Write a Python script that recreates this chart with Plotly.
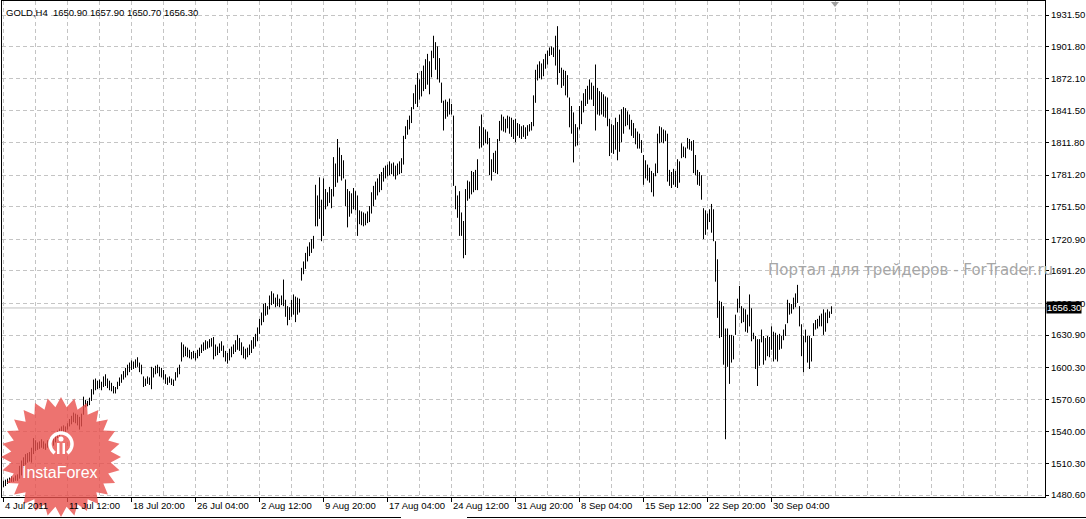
import math
import plotly.graph_objects as go

# ---------------- data ----------------
symbol = "GOLD,H4"
last_ohlc = [1650.90, 1657.90, 1650.70, 1656.30]
watermark = "Портал для трейдеров - ForTrader.ru"
logo_text = "InstaForex"

highs = [
    1494, 1495, 1496, 1497, 1498, 1497, 1499, 1500, 1508, 1513,
    1516, 1519, 1520, 1521, 1525, 1534, 1532, 1530, 1531, 1533,
    1531, 1529, 1532, 1534, 1536, 1535, 1538, 1541, 1543, 1545,
    1546, 1545, 1548, 1552, 1555, 1558, 1557, 1556, 1554, 1557,
    1573, 1570, 1569, 1572, 1580, 1589, 1590, 1588, 1589, 1587,
    1592, 1594, 1590, 1588, 1586, 1583, 1582, 1587, 1591, 1594,
    1597, 1600, 1603, 1605, 1607, 1606, 1608, 1610, 1605, 1603,
    1592, 1590, 1592, 1591, 1601, 1600, 1602, 1603, 1601, 1600,
    1598, 1594, 1591, 1592, 1590, 1589, 1596, 1600, 1603, 1624,
    1622, 1620, 1619, 1617, 1615, 1616, 1614, 1617, 1619, 1622,
    1624, 1626, 1625, 1627, 1628, 1629, 1622, 1620, 1623, 1625,
    1621, 1616, 1614, 1618, 1620, 1622, 1626, 1631, 1628, 1624,
    1620, 1618, 1619, 1622, 1626, 1629, 1632, 1638, 1646, 1652,
    1660, 1661, 1658, 1668, 1672, 1670, 1666, 1669, 1665, 1668,
    1683, 1664, 1658, 1657, 1664, 1669, 1667, 1666, 1665, 1694,
    1700, 1708, 1714, 1718, 1721, 1724, 1772, 1762, 1779, 1758,
    1778, 1768, 1765, 1770, 1768, 1798, 1792, 1815, 1807, 1800,
    1795, 1777, 1768, 1766, 1764, 1769, 1766, 1762, 1748, 1747,
    1746, 1745, 1747, 1752, 1765, 1771, 1775, 1778, 1782, 1784,
    1788, 1790, 1791, 1794, 1792, 1793, 1790, 1792, 1794, 1797,
    1818, 1827, 1833, 1837, 1845, 1858, 1866, 1877, 1871, 1879,
    1884, 1890, 1895, 1888, 1898, 1912, 1906, 1902, 1891, 1868,
    1851, 1852, 1850, 1853, 1848, 1837, 1771, 1762, 1766, 1746,
    1738, 1768, 1776, 1775, 1785, 1784, 1786, 1796, 1827, 1838,
    1826, 1824, 1822, 1816, 1796, 1802, 1804, 1815, 1832, 1838,
    1836, 1834, 1837, 1836, 1835, 1833, 1834, 1830, 1829, 1827,
    1828, 1826, 1828, 1829, 1831, 1856, 1880, 1885, 1888, 1886,
    1890, 1895, 1898, 1901, 1902, 1901, 1912, 1921, 1899, 1882,
    1880, 1879, 1875, 1854, 1846, 1840, 1829, 1826, 1846, 1851,
    1858, 1862, 1865, 1871, 1868, 1865, 1885, 1863, 1860, 1859,
    1857, 1855, 1854, 1834, 1829, 1828, 1835, 1831, 1838, 1843,
    1845, 1844, 1841, 1838, 1833, 1830, 1825, 1822, 1820, 1814,
    1800, 1795, 1791, 1788, 1785, 1783, 1792, 1820, 1827, 1826,
    1824, 1823, 1820, 1786, 1784, 1787, 1785, 1796, 1794, 1811,
    1808, 1807, 1816, 1815, 1813, 1814, 1800, 1786, 1784, 1781,
    1750, 1748, 1745, 1749, 1754, 1749, 1719, 1702, 1663, 1662,
    1658, 1637, 1637, 1631, 1631, 1630, 1650, 1665, 1677, 1658,
    1656, 1655, 1650, 1669, 1656, 1633, 1630, 1627, 1627, 1636,
    1630, 1628, 1630, 1629, 1639, 1634, 1633, 1631, 1632, 1630,
    1636, 1641, 1664, 1661, 1660, 1666, 1670, 1678, 1658, 1641,
    1630, 1636, 1630, 1630, 1628, 1642, 1645, 1646, 1649, 1651,
    1655, 1652, 1655, 1653, 1657.9,
]

lows = [
    1488, 1489, 1491, 1492, 1493, 1493, 1494, 1494, 1496, 1499,
    1506, 1509, 1511, 1512, 1511, 1519, 1522, 1523, 1524, 1525,
    1524, 1523, 1525, 1527, 1528, 1527, 1530, 1534, 1536, 1538,
    1539, 1540, 1542, 1545, 1547, 1549, 1548, 1546, 1542, 1545,
    1556, 1563, 1564, 1565, 1569, 1575, 1579, 1580, 1581, 1579,
    1582, 1583, 1581, 1579, 1578, 1576, 1576, 1580, 1583, 1586,
    1589, 1591, 1593, 1596, 1598, 1599, 1600, 1601, 1596, 1594,
    1582, 1583, 1585, 1584, 1580, 1591, 1594, 1595, 1592, 1591,
    1589, 1585, 1584, 1586, 1584, 1583, 1588, 1591, 1594, 1606,
    1610, 1611, 1610, 1609, 1608, 1609, 1607, 1609, 1611, 1614,
    1616, 1617, 1618, 1619, 1620, 1608, 1611, 1612, 1614, 1616,
    1610, 1606, 1604, 1607, 1610, 1613, 1615, 1617, 1616, 1612,
    1609, 1608, 1610, 1612, 1614, 1618, 1620, 1625, 1632, 1640,
    1643, 1649, 1650, 1655, 1659, 1660, 1657, 1658, 1657, 1659,
    1658, 1648, 1640, 1645, 1648, 1650, 1643, 1650, 1652, 1682,
    1688, 1693, 1700, 1705, 1708, 1712, 1733, 1733, 1740, 1719,
    1724, 1749, 1752, 1755, 1750, 1761, 1770, 1774, 1780, 1776,
    1778, 1752, 1732, 1742, 1745, 1749, 1748, 1724, 1735, 1734,
    1733, 1734, 1736, 1737, 1745, 1752, 1758, 1762, 1765, 1767,
    1775, 1778, 1780, 1781, 1782, 1780, 1777, 1781, 1782, 1783,
    1791, 1815, 1819, 1824, 1830, 1843, 1848, 1845, 1852, 1855,
    1860, 1862, 1866, 1857, 1873, 1891, 1880, 1871, 1868, 1849,
    1823, 1834, 1836, 1838, 1838, 1771, 1749, 1741, 1724, 1724,
    1703, 1706, 1757, 1759, 1763, 1765, 1767, 1767, 1806, 1807,
    1809, 1811, 1810, 1781, 1776, 1784, 1783, 1782, 1813, 1823,
    1822, 1821, 1825, 1820, 1817, 1815, 1812, 1818, 1816, 1815,
    1817, 1815, 1818, 1822, 1823, 1827, 1849, 1870, 1872, 1871,
    1874, 1881, 1885, 1893, 1894, 1892, 1884, 1866, 1877, 1863,
    1865, 1856, 1854, 1826, 1820, 1793, 1808, 1809, 1824, 1829,
    1840, 1846, 1848, 1852, 1852, 1846, 1823, 1838, 1837, 1838,
    1836, 1835, 1827, 1799, 1802, 1801, 1805, 1795, 1803, 1812,
    1820, 1827, 1828, 1824, 1818, 1816, 1810, 1806, 1806, 1802,
    1772, 1778, 1776, 1774, 1765, 1761, 1780, 1783, 1811, 1812,
    1811, 1813, 1775, 1771, 1769, 1772, 1770, 1769, 1774, 1797,
    1798, 1797, 1806, 1805, 1804, 1783, 1781, 1772, 1771, 1758,
    1721, 1725, 1730, 1737, 1727, 1719, 1681, 1647, 1628, 1629,
    1603, 1533, 1601, 1585, 1605, 1608, 1631, 1652, 1656, 1642,
    1643, 1634, 1633, 1639, 1625, 1627, 1599, 1583, 1602, 1624,
    1603, 1607, 1611, 1610, 1617, 1606, 1608, 1606, 1617, 1618,
    1626, 1630, 1642, 1650, 1651, 1655, 1657, 1661, 1639, 1611,
    1596, 1624, 1605, 1599, 1606, 1630, 1636, 1637, 1639, 1639,
    1631, 1634, 1642, 1647, 1650.7,
]
assert len(highs) == len(lows)

x_labels = ["4 Jul 2011", "11 Jul 12:00", "18 Jul 20:00", "26 Jul 04:00",
            "2 Aug 12:00", "9 Aug 20:00", "17 Aug 04:00", "24 Aug 12:00",
            "31 Aug 20:00", "8 Sep 04:00", "15 Sep 12:00", "22 Sep 20:00",
            "30 Sep 04:00"]
bars_per_label = 32
bars_per_grid = 16

y_ticks = [1931.50, 1901.80, 1872.10, 1841.50, 1811.80, 1781.20, 1751.50,
           1720.90, 1691.20, 1660.60, 1630.90, 1600.30, 1570.60, 1540.00,
           1510.30, 1480.60]

# ---------------- layout geometry ----------------
W, H = 1086, 519
ML, MR, MT, MB = 2, 41, 1, 22
PW, PH = W - ML - MR, H - MT - MB
px_per_bar = 2.0
x0 = -0.75
x1 = x0 + PW / px_per_bar
price_per_px = (y_ticks[0] - y_ticks[-1]) / 480.0
ymin = y_ticks[-1] - 2 * price_per_px
ymax = ymin + PH * price_per_px

FONT = "Liberation Sans, Arial, sans-serif"
FS = 9.5
GRID = "#c4c4c4"
DASH = "4px,3px"


def to_paper(px, py):
    return (px - ML) / PW, (H - MB - py) / PH


# ---------------- bars ----------------
xs, ys = [], []
for i, (h, l) in enumerate(zip(highs, lows)):
    xs += [i, i, None]
    ys += [l, h, None]

fig = go.Figure()
fig.add_trace(go.Scatter(x=xs, y=ys, mode="lines",
                         line=dict(color="black", width=1),
                         hoverinfo="skip", showlegend=False))

label_pos = [k * bars_per_label for k in range(len(x_labels))]

fig.update_layout(
    template="none",
    width=W, height=H,
    margin=dict(l=ML, r=MR, t=MT, b=MB, pad=0, autoexpand=False),
    paper_bgcolor="white", plot_bgcolor="white",
    showlegend=False, hovermode=False,
    font=dict(family=FONT, size=FS, color="black"),
    xaxis=dict(range=[x0, x1], automargin=False, showline=True,
               linecolor="black", linewidth=1,
               mirror=True, zeroline=False,
               tickvals=label_pos, ticks="outside", ticklen=4,
               tickcolor="black", tickwidth=1, showticklabels=False,
               showgrid=True, gridcolor=GRID, griddash=DASH, gridwidth=1,
               minor=dict(dtick=bars_per_grid, tick0=0, showgrid=True,
                          gridcolor=GRID, griddash=DASH, gridwidth=1,
                          ticks="")),
    yaxis=dict(side="right", range=[ymin, ymax], automargin=False,
               showline=True, linecolor="black", linewidth=1, mirror=True,
               zeroline=False,
               tickvals=y_ticks, ticktext=[f"{v:.2f}" for v in y_ticks],
               ticks="outside", ticklen=3, tickcolor="black", tickwidth=1,
               tickfont=dict(family=FONT, size=FS, color="black"),
               showgrid=True, gridcolor=GRID, griddash=DASH, gridwidth=1),
)

# bottom date labels (left aligned at their tick like MT4)
for pos, lab in zip(label_pos, x_labels):
    fig.add_annotation(x=pos, xref="x", y=0, yref="paper", text=lab,
                       xanchor="left", yanchor="top", yshift=-1, xshift=-1,
                       showarrow=False,
                       font=dict(family=FONT, size=FS, color="black"))

# current price line + label
last_price = last_ohlc[3]
fig.add_shape(type="line", xref="paper", x0=0, x1=1, yref="y",
              y0=last_price, y1=last_price,
              line=dict(color="#c0c0c0", width=1), layer="below")
fig.add_annotation(x=1, xref="paper", y=last_price, yref="y",
                   text=f"{last_price:.2f}", xanchor="left", yanchor="middle",
                   xshift=1, showarrow=False, bgcolor="black", borderpad=0,
                   font=dict(family=FONT, size=FS, color="white"))

# header
header = symbol + "  " + " ".join(f"{v:.2f}" for v in last_ohlc)
hx, hy = to_paper(4, 5)
fig.add_annotation(x=hx, xref="paper", y=hy, yref="paper", text=header,
                   xanchor="left", yanchor="top", showarrow=False,
                   font=dict(family=FONT, size=FS, color="black"))

# watermark text
wx, wy = to_paper(766, 270)
fig.add_annotation(x=wx, xref="paper", y=wy, yref="paper", text=watermark,
                   xanchor="left", yanchor="middle", showarrow=False,
                   font=dict(family="DejaVu Sans, sans-serif", size=15,
                             color="#a6a6a6"))

# chart-shift marker at top
tri = [to_paper(831, 2), to_paper(839, 2), to_paper(835, 7)]
fig.add_shape(type="path", xref="paper", yref="paper",
              path="M{} {} L{} {} L{} {} Z".format(*tri[0], *tri[1], *tri[2]),
              fillcolor="#a0a0a0", line=dict(width=0), layer="above")

# InstaForex star logo
cx, cy, r_out, r_in, n = 61, 457, 60, 50, 28
pts = []
for k in range(2 * n):
    ang = math.pi * k / n - math.pi / 2
    r = r_out if k % 2 == 0 else r_in
    pts.append(to_paper(cx + r * math.cos(ang), cy + r * math.sin(ang)))
path = "M" + " L".join(f"{a:.5f} {b:.5f}" for a, b in pts) + " Z"
fig.add_shape(type="path", xref="paper", yref="paper", path=path,
              fillcolor="rgba(232,80,76,0.8)", line=dict(width=0),
              layer="above")
# icon: open ring + figure
icx, icy, ir = 61, 444, 11
arc = []
for k in range(0, 41):
    ang = math.radians(-235 + k * (290 / 40))
    arc.append(to_paper(icx + ir * math.cos(ang), icy + ir * math.sin(ang)))
fig.add_shape(type="path", xref="paper", yref="paper",
              path="M" + " L".join(f"{a:.5f} {b:.5f}" for a, b in arc),
              line=dict(color="white", width=3.5), layer="above")
hx0, hy0 = to_paper(58.5, 436.5)
hx1, hy1 = to_paper(63.5, 441.5)
fig.add_shape(type="circle", xref="paper", yref="paper", x0=hx0, y0=hy0,
              x1=hx1, y1=hy1, fillcolor="white", line=dict(width=0),
              layer="above")
for bx in (57, 62.5):
    a0, b0 = to_paper(bx, 443)
    a1, b1 = to_paper(bx + 2.5, 454)
    fig.add_shape(type="rect", xref="paper", yref="paper", x0=a0, y0=b0,
                  x1=a1, y1=b1, fillcolor="white", line=dict(width=0),
                  layer="above")
lx, ly = to_paper(60, 472)
fig.add_annotation(x=lx, xref="paper", y=ly, yref="paper", text=logo_text,
                   xanchor="center", yanchor="middle", showarrow=False,
                   font=dict(family=FONT, size=16, color="white"))

# terminal tab strip at the very bottom
for xa, xb in ((0, 401), (467, W)):
    a0, b0 = to_paper(xa, 517.5)
    a1, _ = to_paper(xb, 517.5)
    fig.add_shape(type="line", xref="paper", yref="paper", x0=a0, x1=a1,
                  y0=b0, y1=b0, line=dict(color="black", width=1))

fig.write_html("out.html",
               config={"displayModeBar": False, "staticPlot": True},
               post_script="document.body.style.margin='0px';"
                           "document.body.style.overflow='hidden';")
